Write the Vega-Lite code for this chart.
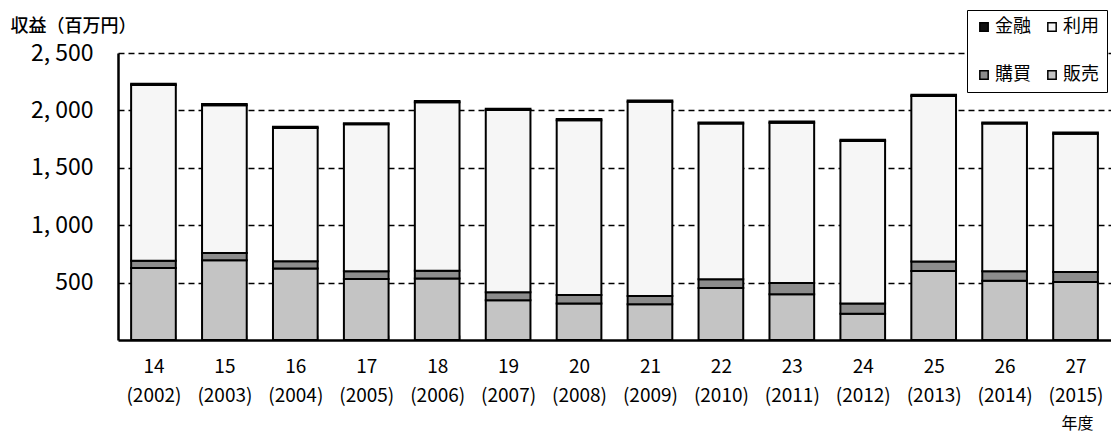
{
  "$schema": "https://vega.github.io/schema/vega-lite/v6.json",
  "autosize": {"type": "none"},
  "width": 993,
  "height": 287,
  "padding": {"left": 118, "top": 53, "right": 0, "bottom": 94},
  "background": "white",
  "config": {
    "font": "Noto Sans CJK JP",
    "view": {"stroke": null}
  },
  "data": {
    "values": [
      {"年度": "14|(2002)", "区分": "販売", "順": 1, "収益": 628},
      {"年度": "14|(2002)", "区分": "購買", "順": 2, "収益": 63},
      {"年度": "14|(2002)", "区分": "利用", "順": 3, "収益": 1531},
      {"年度": "14|(2002)", "区分": "金融", "順": 4, "収益": 10},
      {"年度": "15|(2003)", "区分": "販売", "順": 1, "収益": 695},
      {"年度": "15|(2003)", "区分": "購買", "順": 2, "収益": 63},
      {"年度": "15|(2003)", "区分": "利用", "順": 3, "収益": 1287},
      {"年度": "15|(2003)", "区分": "金融", "順": 4, "収益": 10},
      {"年度": "16|(2004)", "区分": "販売", "順": 1, "収益": 622},
      {"年度": "16|(2004)", "区分": "購買", "順": 2, "収益": 64},
      {"年度": "16|(2004)", "区分": "利用", "順": 3, "収益": 1161},
      {"年度": "16|(2004)", "区分": "金融", "順": 4, "収益": 10},
      {"年度": "17|(2005)", "区分": "販売", "順": 1, "収益": 532},
      {"年度": "17|(2005)", "区分": "購買", "順": 2, "収益": 67},
      {"年度": "17|(2005)", "区分": "利用", "順": 3, "収益": 1280},
      {"年度": "17|(2005)", "区分": "金融", "順": 4, "収益": 10},
      {"年度": "18|(2006)", "区分": "販売", "順": 1, "収益": 535},
      {"年度": "18|(2006)", "区分": "購買", "順": 2, "収益": 69},
      {"年度": "18|(2006)", "区分": "利用", "順": 3, "収益": 1467},
      {"年度": "18|(2006)", "区分": "金融", "順": 4, "収益": 10},
      {"年度": "19|(2007)", "区分": "販売", "順": 1, "収益": 346},
      {"年度": "19|(2007)", "区分": "購買", "順": 2, "収益": 70},
      {"年度": "19|(2007)", "区分": "利用", "順": 3, "収益": 1588},
      {"年度": "19|(2007)", "区分": "金融", "順": 4, "収益": 10},
      {"年度": "20|(2008)", "区分": "販売", "順": 1, "収益": 317},
      {"年度": "20|(2008)", "区分": "購買", "順": 2, "収益": 75},
      {"年度": "20|(2008)", "区分": "利用", "順": 3, "収益": 1522},
      {"年度": "20|(2008)", "区分": "金融", "順": 4, "収益": 10},
      {"年度": "21|(2009)", "区分": "販売", "順": 1, "収益": 311},
      {"年度": "21|(2009)", "区分": "購買", "順": 2, "収益": 73},
      {"年度": "21|(2009)", "区分": "利用", "順": 3, "収益": 1692},
      {"年度": "21|(2009)", "区分": "金融", "順": 4, "収益": 10},
      {"年度": "22|(2010)", "区分": "販売", "順": 1, "収益": 453},
      {"年度": "22|(2010)", "区分": "購買", "順": 2, "収益": 76},
      {"年度": "22|(2010)", "区分": "利用", "順": 3, "収益": 1356},
      {"年度": "22|(2010)", "区分": "金融", "順": 4, "収益": 10},
      {"年度": "23|(2011)", "区分": "販売", "順": 1, "収益": 398},
      {"年度": "23|(2011)", "区分": "購買", "順": 2, "収益": 99},
      {"年度": "23|(2011)", "区分": "利用", "順": 3, "収益": 1396},
      {"年度": "23|(2011)", "区分": "金融", "順": 4, "収益": 10},
      {"年度": "24|(2012)", "区分": "販売", "順": 1, "収益": 229},
      {"年度": "24|(2012)", "区分": "購買", "順": 2, "収益": 88},
      {"年度": "24|(2012)", "区分": "利用", "順": 3, "収益": 1417},
      {"年度": "24|(2012)", "区分": "金融", "順": 4, "収益": 10},
      {"年度": "25|(2013)", "区分": "販売", "順": 1, "収益": 602},
      {"年度": "25|(2013)", "区分": "購買", "順": 2, "収益": 81},
      {"年度": "25|(2013)", "区分": "利用", "順": 3, "収益": 1443},
      {"年度": "25|(2013)", "区分": "金融", "順": 4, "収益": 10},
      {"年度": "26|(2014)", "区分": "販売", "順": 1, "収益": 517},
      {"年度": "26|(2014)", "区分": "購買", "順": 2, "収益": 82},
      {"年度": "26|(2014)", "区分": "利用", "順": 3, "収益": 1286},
      {"年度": "26|(2014)", "区分": "金融", "順": 4, "収益": 10},
      {"年度": "27|(2015)", "区分": "販売", "順": 1, "収益": 506},
      {"年度": "27|(2015)", "区分": "購買", "順": 2, "収益": 87},
      {"年度": "27|(2015)", "区分": "利用", "順": 3, "収益": 1204},
      {"年度": "27|(2015)", "区分": "金融", "順": 4, "収益": 10}
    ]
  },
  "mark": {"type": "bar", "stroke": "black", "strokeWidth": 2},
  "encoding": {
    "x": {
      "field": "年度",
      "type": "nominal",
      "sort": null,
      "scale": {"paddingInner": 0.37, "paddingOuter": 0.185},
      "axis": {
        "title": "年度",
        "titleFontSize": 16,
        "titleFontWeight": "normal",
        "titleAnchor": null,
        "titleX": 959,
        "titleY": 83,
        "titleAlign": "center",
        "titleBaseline": "middle",
        "labelAngle": 0,
        "labelFontSize": 19,
        "labelColor": "black",
        "labelPadding": 22,
        "labelLineHeight": 29,
        "labelExpr": "split(datum.label, '|')",
        "tickBand": "extent",
        "tickSize": -5,
        "tickColor": "#bbbbbb",
        "domainColor": "black",
        "domainWidth": 2.5
      }
    },
    "y": {
      "field": "収益",
      "type": "quantitative",
      "stack": "zero",
      "scale": {"domain": [0, 2500], "nice": false},
      "axis": {
        "title": "収益（百万円）",
        "titleAngle": 0,
        "titleX": -108,
        "titleY": -27,
        "titleAlign": "left",
        "titleBaseline": "middle",
        "titleFontSize": 18,
        "titleFontWeight": 500,
        "values": [500, 1000, 1500, 2000, 2500],
        "labelExpr": "replace(datum.label, ',', ', ')",
        "labelFontSize": 23,
        "labelColor": "black",
        "labelPadding": 25,
        "ticks": false,
        "grid": true,
        "gridColor": "black",
        "gridWidth": 1.5,
        "gridDash": [6, 4],
        "domainColor": "black",
        "domainWidth": 2.5
      }
    },
    "color": {
      "field": "区分",
      "type": "nominal",
      "scale": {
        "domain": ["金融", "利用", "購買", "販売"],
        "range": ["#111111", "#f6f6f6", "#8c8c8c", "#c4c4c4"]
      },
      "legend": {
        "title": null,
        "orient": "none",
        "legendX": 849,
        "legendY": -43,
        "columns": 2,
        "direction": "horizontal",
        "symbolType": "square",
        "symbolSize": 70,
        "symbolStrokeColor": "black",
        "symbolStrokeWidth": 1.5,
        "labelFontSize": 18,
        "labelColor": "black",
        "labelOffset": 2,
        "rowPadding": 30,
        "columnPadding": 12,
        "padding": 8,
        "fillColor": "white",
        "strokeColor": "black"
      }
    },
    "order": {"field": "順", "type": "quantitative"}
  }
}
